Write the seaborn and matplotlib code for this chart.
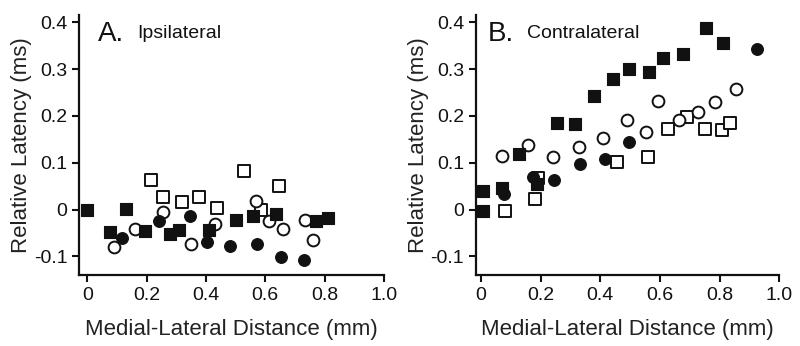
import numpy as np
import pandas as pd
import seaborn as sns
import matplotlib.pyplot as plt

# Panel A - ipsilateral
ipsi_fsq_x = [0.0, 0.078, 0.132, 0.194, 0.28, 0.31, 0.41, 0.50, 0.56, 0.637, 0.77, 0.81]
ipsi_fsq_y = [0.0, -0.049, 0.002, -0.046, -0.053, -0.043, -0.044, -0.023, -0.014, -0.009, -0.024, -0.018]
ipsi_fci_x = [0.117, 0.241, 0.346, 0.402, 0.48, 0.571, 0.652, 0.729]
ipsi_fci_y = [-0.060, -0.024, -0.014, -0.069, -0.078, -0.073, -0.101, -0.108]
ipsi_oci_x = [0.089, 0.162, 0.254, 0.349, 0.43, 0.57, 0.613, 0.661, 0.734, 0.761]
ipsi_oci_y = [-0.080, -0.041, -0.006, -0.073, -0.031, 0.019, -0.024, -0.041, -0.023, -0.066]
ipsi_osq_x = [0.215, 0.254, 0.321, 0.376, 0.438, 0.529, 0.585, 0.646]
ipsi_osq_y = [0.063, 0.027, 0.017, 0.027, 0.004, 0.083, -0.002, 0.051]

# Panel B - contralateral
contra_fsq_x = [0.006, 0.008, 0.069, 0.127, 0.189, 0.254, 0.315, 0.38, 0.444, 0.497, 0.562, 0.611, 0.676, 0.754, 0.812]
contra_fsq_y = [0.039, -0.003, 0.045, 0.118, 0.054, 0.185, 0.182, 0.242, 0.278, 0.301, 0.295, 0.324, 0.333, 0.388, 0.356]
contra_fci_x = [0.0, 0.078, 0.175, 0.246, 0.332, 0.416, 0.496, 0.927]
contra_fci_y = [-0.003, 0.033, 0.070, 0.063, 0.098, 0.109, 0.145, 0.344]
contra_oci_x = [0.069, 0.156, 0.242, 0.33, 0.41, 0.488, 0.553, 0.592, 0.664, 0.728, 0.784, 0.855]
contra_oci_y = [0.114, 0.137, 0.113, 0.134, 0.152, 0.191, 0.165, 0.232, 0.191, 0.209, 0.230, 0.258]
contra_osq_x = [0.08, 0.181, 0.19, 0.455, 0.561, 0.628, 0.692, 0.75, 0.807, 0.835]
contra_osq_y = [-0.004, 0.022, 0.068, 0.102, 0.113, 0.173, 0.198, 0.173, 0.170, 0.186]

x_ticks = [0, 0.2, 0.4, 0.6, 0.8, 1.0]
x_ticklabels = ['0', '0.2', '0.4', '0.6', '0.8', '1.0']
y_ticks = [-0.1, 0, 0.1, 0.2, 0.3, 0.4]
y_ticklabels = ['-0.1', '0', '0.1', '0.2', '0.3', '0.4']

sns.set_style('ticks')
plt.rcParams['font.family'] = ['Liberation Sans', 'DejaVu Sans']

fig = plt.figure(figsize=(8, 3.46), dpi=100)
axA = fig.add_axes([0.099, 0.205, 0.381, 0.752])
axB = fig.add_axes([0.595, 0.205, 0.379, 0.752])


def draw_panel(ax, series, letter, name, xmin, letter_x, name_x):
    # series: list of (x, y, marker, filled)
    for xs, ys, mk, filled in series:
        df = pd.DataFrame({'x': xs, 'y': ys})
        if filled:
            sns.scatterplot(data=df, x='x', y='y', ax=ax, marker=mk, s=72,
                            color='#111111', edgecolor='#111111', linewidth=0.8, zorder=3)
        else:
            sns.scatterplot(data=df, x='x', y='y', ax=ax, marker=mk, s=72,
                            color='white', edgecolor='#111111', linewidth=1.4, zorder=3)
    ax.set_xlim(xmin, 1.0)
    ax.set_ylim(-0.14, 0.416)
    ax.set_xticks(x_ticks)
    ax.set_xticklabels(x_ticklabels)
    ax.set_yticks(y_ticks)
    ax.set_yticklabels(y_ticklabels)
    ax.tick_params(labelsize=14, width=1.5, length=5, direction='out', colors='#111111')
    for sp in ['left', 'bottom']:
        ax.spines[sp].set_linewidth(1.6)
        ax.spines[sp].set_color('#111111')
    sns.despine(ax=ax)
    ax.set_xlabel('Medial-Lateral Distance (mm)', fontsize=16, labelpad=11, color='#222222')
    ax.set_ylabel('Relative Latency (ms)', fontsize=16, labelpad=1, color='#222222')
    ax.text(letter_x, 0.975, letter, transform=ax.transAxes, fontsize=20, va='top', ha='left', color='#111111')
    ax.text(name_x, 0.96, name, transform=ax.transAxes, fontsize=14, va='top', ha='left', color='#111111')


draw_panel(axA, [
    (ipsi_osq_x, ipsi_osq_y, 's', False),
    (ipsi_oci_x, ipsi_oci_y, 'o', False),
    (ipsi_fci_x, ipsi_fci_y, 'o', True),
    (ipsi_fsq_x, ipsi_fsq_y, 's', True),
], 'A.', 'Ipsilateral', -0.027, 0.06, 0.19)

draw_panel(axB, [
    (contra_osq_x, contra_osq_y, 's', False),
    (contra_oci_x, contra_oci_y, 'o', False),
    (contra_fsq_x, contra_fsq_y, 's', True),
    (contra_fci_x, contra_fci_y, 'o', True),
], 'B.', 'Contralateral', -0.017, 0.04, 0.168)

fig.savefig('out.png', dpi=100)
